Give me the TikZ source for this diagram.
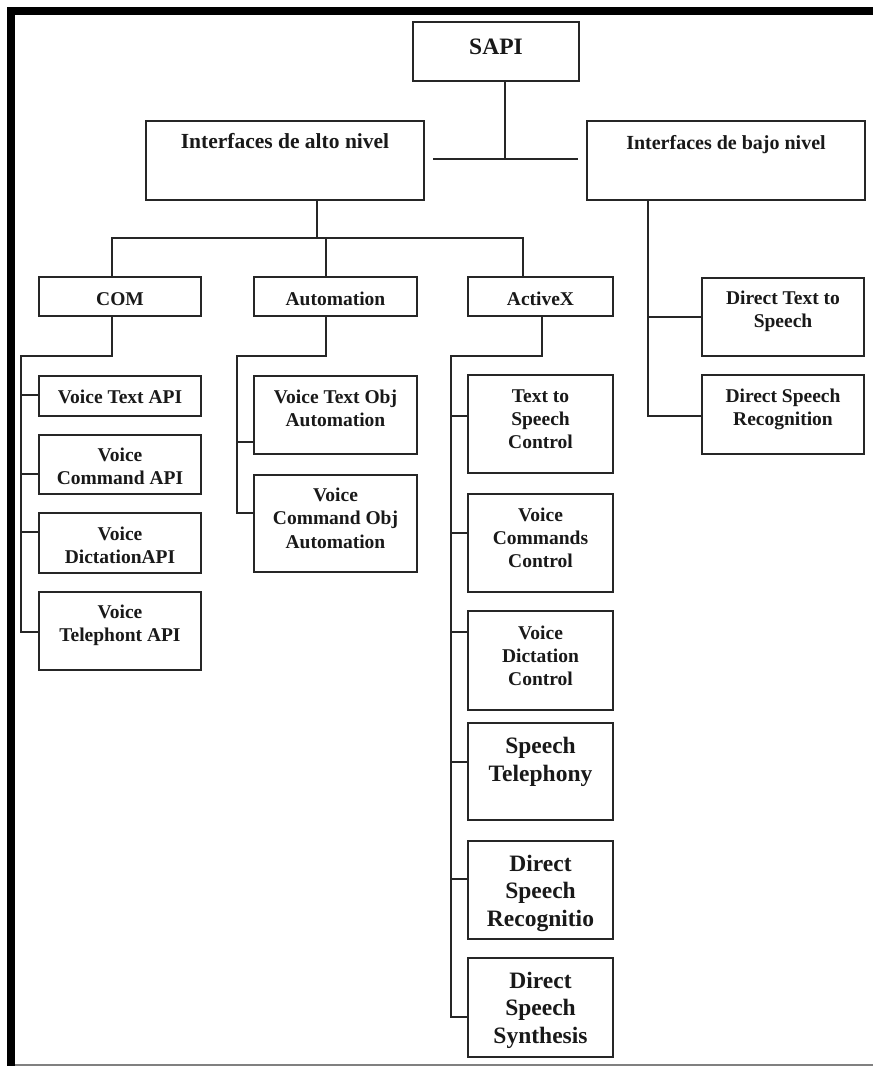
\documentclass[tikz,border=0pt]{standalone}
\usepackage{fontspec}
\setmainfont{Liberation Serif}
\begin{document}
\begin{tikzpicture}[x=1pt,y=-1pt,
  box/.style={draw=black!85, line width=1.8pt, inner sep=0pt, outer sep=0pt, fill=white},
  ln/.style={draw=black!85, line width=1.8pt},
  t/.style={inner sep=0pt, align=center, anchor=base, text=black!90, font=\bfseries\fontsize{19.5}{23}\selectfont},
  tl/.style={t, font=\bfseries\fontsize{23.5}{27.5}\selectfont}]
\useasboundingbox (0,0) rectangle (873,1066);
% frame
\fill[black] (7,7) rectangle (873,15);
\fill[black] (7,7) rectangle (15,1066);
\draw[gray, line width=1.2pt] (15,1065) -- (873,1065);

% boxes
\node[box, minimum width=166, minimum height=59] (sapi) at (496,51.5) {};
\node[box, minimum width=278, minimum height=79] (alto) at (285,160.5) {};
\node[box, minimum width=278, minimum height=79] (bajo) at (726,160.5) {};
\node[box, minimum width=162, minimum height=39] (com) at (120,296.5) {};
\node[box, minimum width=163, minimum height=39] (auto) at (335.5,296.5) {};
\node[box, minimum width=145, minimum height=39] (actx) at (540.5,296.5) {};
\node[box, minimum width=162, minimum height=78] (dts) at (783,317) {};
\node[box, minimum width=162, minimum height=79] (dsr) at (783,414.5) {};
\node[box, minimum width=162, minimum height=40] (vta) at (120,396) {};
\node[box, minimum width=162, minimum height=59] (vca) at (120,464.5) {};
\node[box, minimum width=162, minimum height=60] (vda) at (120,543) {};
\node[box, minimum width=162, minimum height=78] (vtel) at (120,631) {};
\node[box, minimum width=163, minimum height=78] (vto) at (335.5,415) {};
\node[box, minimum width=163, minimum height=97] (vco) at (335.5,523.5) {};
\node[box, minimum width=145, minimum height=98] (tsc) at (540.5,424) {};
\node[box, minimum width=145, minimum height=98] (vcc) at (540.5,543) {};
\node[box, minimum width=145, minimum height=99] (vdc) at (540.5,660.5) {};
\node[box, minimum width=145, minimum height=97] (stel) at (540.5,771.5) {};
\node[box, minimum width=145, minimum height=98] (dsrx) at (540.5,890) {};
\node[box, minimum width=145, minimum height=99] (dss) at (540.5,1007.5) {};

% texts (anchor = baseline of the last line)
\node[tl] (sapi-t) at (496,54) {SAPI};
\node[t, font=\bfseries\fontsize{21.5}{25}\selectfont] (alto-t) at (285,148) {Interfaces de alto nivel};
\node[t, font=\bfseries\fontsize{20}{23}\selectfont] (bajo-t) at (726,149) {Interfaces de bajo nivel};
\node[t] (com-t) at (120,305) {COM};
\node[t] (auto-t) at (335.5,305) {Automation};
\node[t] (actx-t) at (540.5,305) {ActiveX};
\node[t] (dts-t) at (783,327) {Direct Text to\\Speech};
\node[t] (dsr-t) at (783,425) {Direct Speech\\Recognition};
\node[t] (vta-t) at (120,403) {Voice Text API};
\node[t] (vca-t) at (120,484) {Voice\\Command API};
\node[t] (vda-t) at (120,563) {Voice\\DictationAPI};
\node[t] (vtel-t) at (120,641) {Voice\\Telephont API};
\node[t] (vto-t) at (335.5,426) {Voice Text Obj\\Automation};
\node[t, font=\bfseries\fontsize{19.5}{23.5}\selectfont] (vco-t) at (335.5,548) {Voice\\Command Obj\\Automation};
\node[t] (tsc-t) at (540.5,448) {Text to\\Speech\\Control};
\node[t] (vcc-t) at (540.5,567) {Voice\\Commands\\Control};
\node[t] (vdc-t) at (540.5,685) {Voice\\Dictation\\Control};
\node[tl] (stel-t) at (540.5,781) {Speech\\Telephony};
\node[tl] (dsrx-t) at (540.5,926) {Direct\\Speech\\Recognitio};
\node[tl] (dss-t) at (540.5,1043) {Direct\\Speech\\Synthesis};

% top level connectors
\coordinate (j0) at (505,159);
\coordinate (jL) at (433,159);
\coordinate (jR) at (578,159);
\draw[ln] (sapi.south -| j0) -- (j0);
\draw[ln] (jL) -- (jR);

% alto branch
\coordinate (b1) at (317,238);
\coordinate (hc) at (112,238);
\coordinate (ha) at (326,238);
\coordinate (hx) at (523,238);
\draw[ln] (alto.south -| b1) -- (b1);
\draw[ln] (hc |- com.north) -- (hc) -- (hx) -- (hx |- actx.north);
\draw[ln] (ha) -- (ha |- auto.north);

% bajo branch
\coordinate (bv) at (648,416);
\draw[ln] (bajo.south -| bv) -- (bv) -- (bv -| dsr.west);
\draw[ln] (bv |- dts.west) -- (dts.west);

% COM branch
\coordinate (cv) at (21,356);
\coordinate (cb) at (21,632);
\draw[ln] (com.south -| hc) -- (hc |- cv) -- (cv) -- (cb) -- (cb -| vtel.west);
\draw[ln] (21,395) -- (vta.west |- 0,395);
\draw[ln] (21,474) -- (vca.west |- 0,474);
\draw[ln] (21,532) -- (vda.west |- 0,532);

% Automation branch
\coordinate (av) at (237,356);
\coordinate (ab) at (237,513);
\draw[ln] (auto.south -| ha) -- (ha |- av) -- (av) -- (ab) -- (ab -| vco.west);
\draw[ln] (237,442) -- (vto.west |- 0,442);

% ActiveX branch
\coordinate (xd) at (542,356);
\coordinate (xv) at (451,356);
\coordinate (xb) at (451,1017);
\draw[ln] (actx.south -| xd) -- (xd) -- (xv) -- (xb) -- (xb -| dss.west);
\draw[ln] (451,416) -- (tsc.west |- 0,416);
\draw[ln] (451,533) -- (vcc.west |- 0,533);
\draw[ln] (451,632) -- (vdc.west |- 0,632);
\draw[ln] (451,762) -- (stel.west |- 0,762);
\draw[ln] (451,879) -- (dsrx.west |- 0,879);
\end{tikzpicture}
\end{document}
